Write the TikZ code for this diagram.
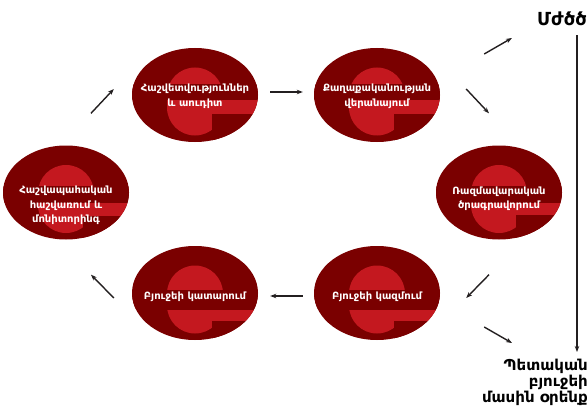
\documentclass[tikz,border=0pt]{standalone}
\usepackage{fontspec}
\setmainfont{DejaVu Sans}
\newfontfamily\armfont[Script=Armenian]{DejaVu Sans}
\usetikzlibrary{shapes.geometric,arrows.meta,positioning}

\definecolor{edark}{RGB}{122,0,0}
\definecolor{elight}{RGB}{196,24,31}
\definecolor{arrowgray}{RGB}{35,31,32}

% text of a stage, lowered inside its ellipse
\newcommand\stagetext[2]{\makebox[0pt]{\raisebox{#1}[\height][\depth]{\begin{tabular}{@{}c@{}}#2\end{tabular}}}}

\tikzset{
  stage/.style n args={3}{ellipse, fill=edark, minimum width=126pt, minimum height=94pt,
    inner sep=0pt, text=white, font=\armfont\bfseries\fontsize{10}{14.5}\selectfont,
    path picture={
      \begin{scope}[shift={(path picture bounding box.center)}]
        % the letter e behind the text
        \fill[elight] (-28,2) arc[start angle=180, end angle=0, radius=28]
          -- (28,-10) arc[start angle=0, end angle=-180, radius=28] -- cycle;
        \fill[elight] (0,#2) rectangle (70,#3);
        \fill[edark] (-70,#1) rectangle (70,#2);
        \fill[edark] (17,#3) rectangle (70,-60);
      \end{scope}
    }},
  flow/.style={-{Stealth[length=6pt,width=4.5pt]}, line width=1.4pt, draw=arrowgray},
  lbl/.style 2 args={font=\armfont\bfseries\fontsize{#1}{#2}\selectfont, inner sep=0pt},
}

\begin{document}
\begin{tikzpicture}[x=1pt,y=1pt]
  \useasboundingbox (0,0) rectangle (587,408);

  \node[stage={13}{-3}{-17}] (tl) at (195,313) {\stagetext{-1pt}{Հաշվետվություններ\\և աուդիտ}};
  \node[stage={13}{-3}{-17}] (tr) at (377,313) {\stagetext{-1pt}{Քաղաքականության\\վերանայում}};
  \node[stage={9}{-8}{-20}] (rt) at (499,215.5) {\stagetext{-6pt}{Ռազմավարական\\ծրագրավորում}};
  \node[stage={6}{-14}{-25}] (br) at (377,115) {\stagetext{-4pt}{Բյուջեի կազմում}};
  \node[stage={6}{-14}{-25}] (bl) at (195,115) {\stagetext{-4pt}{Բյուջեի կատարում}};
  \node[stage={9}{-8}{-21}] (lf) at (66,215.5) {\stagetext{-13pt}{Հաշվապահական\\հաշվառում և\\մոնիտորինգ}};

  \node[lbl={18}{20}, anchor=east] (mtef) at (587,389) {Մժծծ};
  \node[lbl={15}{16}, anchor=north east, align=right] (law) at (588,49) {Պետական\\բյուջեի\\մասին օրենք};

  % the cycle
  \draw[flow] ([shift={(25,32)}]lf.north) -- ([shift={(-18,6)}]tl.west);
  \draw[flow] ([shift={(12,3)}]tl.east) -- ([shift={(-11,3)}]tr.west);
  \draw[flow] ([shift={(26,6)}]tr.east) -- ([shift={(-10,32)}]rt.north);
  \draw[flow] ([shift={(-10,-35)}]rt.south) -- ([shift={(26,-5)}]br.east);
  \draw[flow] ([shift={(-11,-3)}]br.west) -- ([shift={(12,-3)}]bl.east);
  \draw[flow] ([shift={(-18,-5)}]bl.west) -- ([shift={(25,-35)}]lf.south);

  % out to the documents
  \draw[flow] ([shift={(44,41)}]tr.east) -- ([shift={(-25,-19)}]mtef.west);
  \draw[flow] ([shift={(44,-34)}]br.east) -- ([shift={(-76,16)}]law.north east);
  \draw[flow] ([shift={(-10,-9)}]mtef.south east) -- ([shift={(-11,7)}]law.north east);
\end{tikzpicture}
\end{document}
